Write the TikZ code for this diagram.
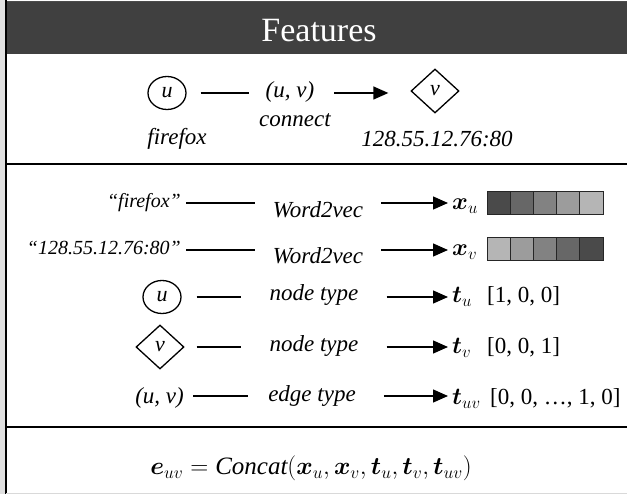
\RequirePackage{fix-cm}
\documentclass[tikz,border=0pt]{standalone}
\usepackage{amsmath}
\usepackage{fontspec}
\setmainfont{Liberation Serif}
\usetikzlibrary{arrows.meta,shapes.geometric,calc}
\newcommand{\bv}[1]{\boldsymbol{#1}}
\definecolor{hdr}{HTML}{404040}
\definecolor{g1}{HTML}{4A4A4A}
\definecolor{g2}{HTML}{676767}
\definecolor{g3}{HTML}{828282}
\definecolor{g4}{HTML}{9C9C9C}
\definecolor{g5}{HTML}{B5B5B5}
\tikzset{
  lbl/.style={font=\fontsize{23}{26}\selectfont\itshape, inner sep=0pt, anchor=base},
  rlbl/.style={lbl, anchor=base east},
  qlbl/.style={font=\fontsize{20}{24}\selectfont\itshape, inner sep=0pt, anchor=base east},
  num/.style={font=\fontsize{23}{26}\selectfont, inner sep=0pt, anchor=base west},
  mth/.style={font=\fontsize{24}{26}\selectfont, inner sep=0pt, anchor=base west},
  circ/.style={ellipse, draw, line width=1.3pt, minimum width=38pt, minimum height=33pt, inner sep=0pt, font=\fontsize{22}{24}\selectfont\itshape},
  dia/.style={diamond, draw, line width=1.3pt, aspect=1.1, minimum width=48pt, minimum height=44pt, inner sep=0pt, font=\fontsize{22}{24}\selectfont\itshape},
  ln/.style={line width=1.1pt},
  arr/.style={line width=1.3pt, -{Triangle[length=15pt,width=13pt]}},
  border/.style={line width=2.5pt, black},
  sqr/.style={draw=black!85, line width=1pt}
}
\begin{document}
\begin{tikzpicture}[x=1pt,y=-1pt]
\useasboundingbox (0,0) rectangle (627,494);
\fill[black!12] (0,0) rectangle (5,494);
\fill[hdr] (6,2) rectangle (627,54);
\draw[black!70, line width=1pt] (6,2) -- (627,2);
\node[font=\fontsize{34}{36}\selectfont, text=white, inner sep=0pt, anchor=base] (title) at (319,42) {Features};
\draw[border] (6,0) -- (6,494);
\draw[border] (6,164) -- (627,164);
\draw[border] (6,427) -- (627,427);
\draw[black!15, line width=1pt] (6,493.5) -- (627,493.5);

% section 1
\node[circ] (u1) at (167,93) {u};
\node[lbl] (ff) at (177,145) {firefox};
\node[lbl] (uv1) at (290,98) {(u, v)};
\node[lbl] (cn) at (295,127) {connect};
\node[dia] (v1) at (435,91) {v};
\node[lbl] (ip) at (437,147) {128.55.12.76:80};
\draw[ln] ($(u1.east)+(14,0)$) -- ($(u1.east -| uv1.west)+(-17,0)$);
\draw[arr] ($(uv1.east |- u1.center)+(20,0)$) -- ($(v1.west |- u1.center)+(-22,0)$);

% row 1
\node[qlbl] (s1) at (181,208) {“firefox”};
\node[lbl] (m1) at (318,218) {Word2vec};
\node[mth] (x1) at (452,210) {$\bv{x}_{u}$};
\draw[ln] ($(s1.east |- 0,203)+(5,0)$) -- ($(m1.west |- 0,203)+(-18,0)$);
\draw[arr] ($(m1.east |- 0,203)+(18,0)$) -- ($(x1.west |- 0,203)+(-4,0)$);
\foreach \c [count=\i from 0] in {g1,g2,g3,g4,g5}
  \draw[sqr, fill=\c] (487+\i*23.2,192) rectangle +(23.2,23);

% row 2
\node[qlbl] (s2) at (181,255) {“128.55.12.76:80”};
\node[lbl] (m2) at (318,264) {Word2vec};
\node[mth] (x2) at (452,256) {$\bv{x}_{v}$};
\draw[ln] ($(s2.east |- 0,250)+(5,0)$) -- ($(m2.west |- 0,250)+(-18,0)$);
\draw[arr] ($(m2.east |- 0,250)+(18,0)$) -- ($(x2.west |- 0,250)+(-4,0)$);
\foreach \c [count=\i from 0] in {g5,g4,g3,g2,g1}
  \draw[sqr, fill=\c] (487+\i*23.2,238) rectangle +(23.2,23);

% row 3
\node[circ] (s3) at (162,297) {u};
\node[lbl] (m3) at (314,301) {node type};
\node[mth] (t3) at (452,303) {$\bv{t}_{u}$};
\node[num] (n3) at (487,303) {[1, 0, 0]};
\draw[ln] ($(s3.east |- 0,297)+(15,0)$) -- ($(m3.west |- 0,297)+(-28,0)$);
\draw[arr] ($(m3.east |- 0,297)+(28,0)$) -- ($(t3.west |- 0,297)+(-4,0)$);

% row 4
\node[dia] (s4) at (160,347) {v};
\node[lbl] (m4) at (314,352) {node type};
\node[mth] (t4) at (452,354) {$\bv{t}_{v}$};
\node[num] (n4) at (487,354) {[0, 0, 1]};
\draw[ln] ($(s4.east |- 0,347)+(12,0)$) -- ($(m4.west |- 0,347)+(-28,0)$);
\draw[arr] ($(m4.east |- 0,347)+(28,0)$) -- ($(t4.west |- 0,347)+(-4,0)$);

% row 5
\node[rlbl] (s5) at (184,403) {(u, v)};
\node[lbl] (m5) at (312,402) {edge type};
\node[mth] (t5) at (452,405) {$\bv{t}_{uv}$};
\node[num] (n5) at (490,405) {[0, 0, …, 1, 0]};
\draw[ln] ($(s5.east |- 0,396)+(9,0)$) -- ($(m5.west |- 0,396)+(-20,0)$);
\draw[arr] ($(m5.east |- 0,396)+(28,0)$) -- ($(t5.west |- 0,396)+(-4,0)$);

% formula
\node[font=\fontsize{25}{28}\selectfont, inner sep=0pt, anchor=base] (eq) at (311,475)
  {$\bv{e}_{uv} = \mathit{Concat}(\bv{x}_{u}, \bv{x}_{v}, \bv{t}_{u}, \bv{t}_{v}, \bv{t}_{uv})$};
\end{tikzpicture}
\end{document}
